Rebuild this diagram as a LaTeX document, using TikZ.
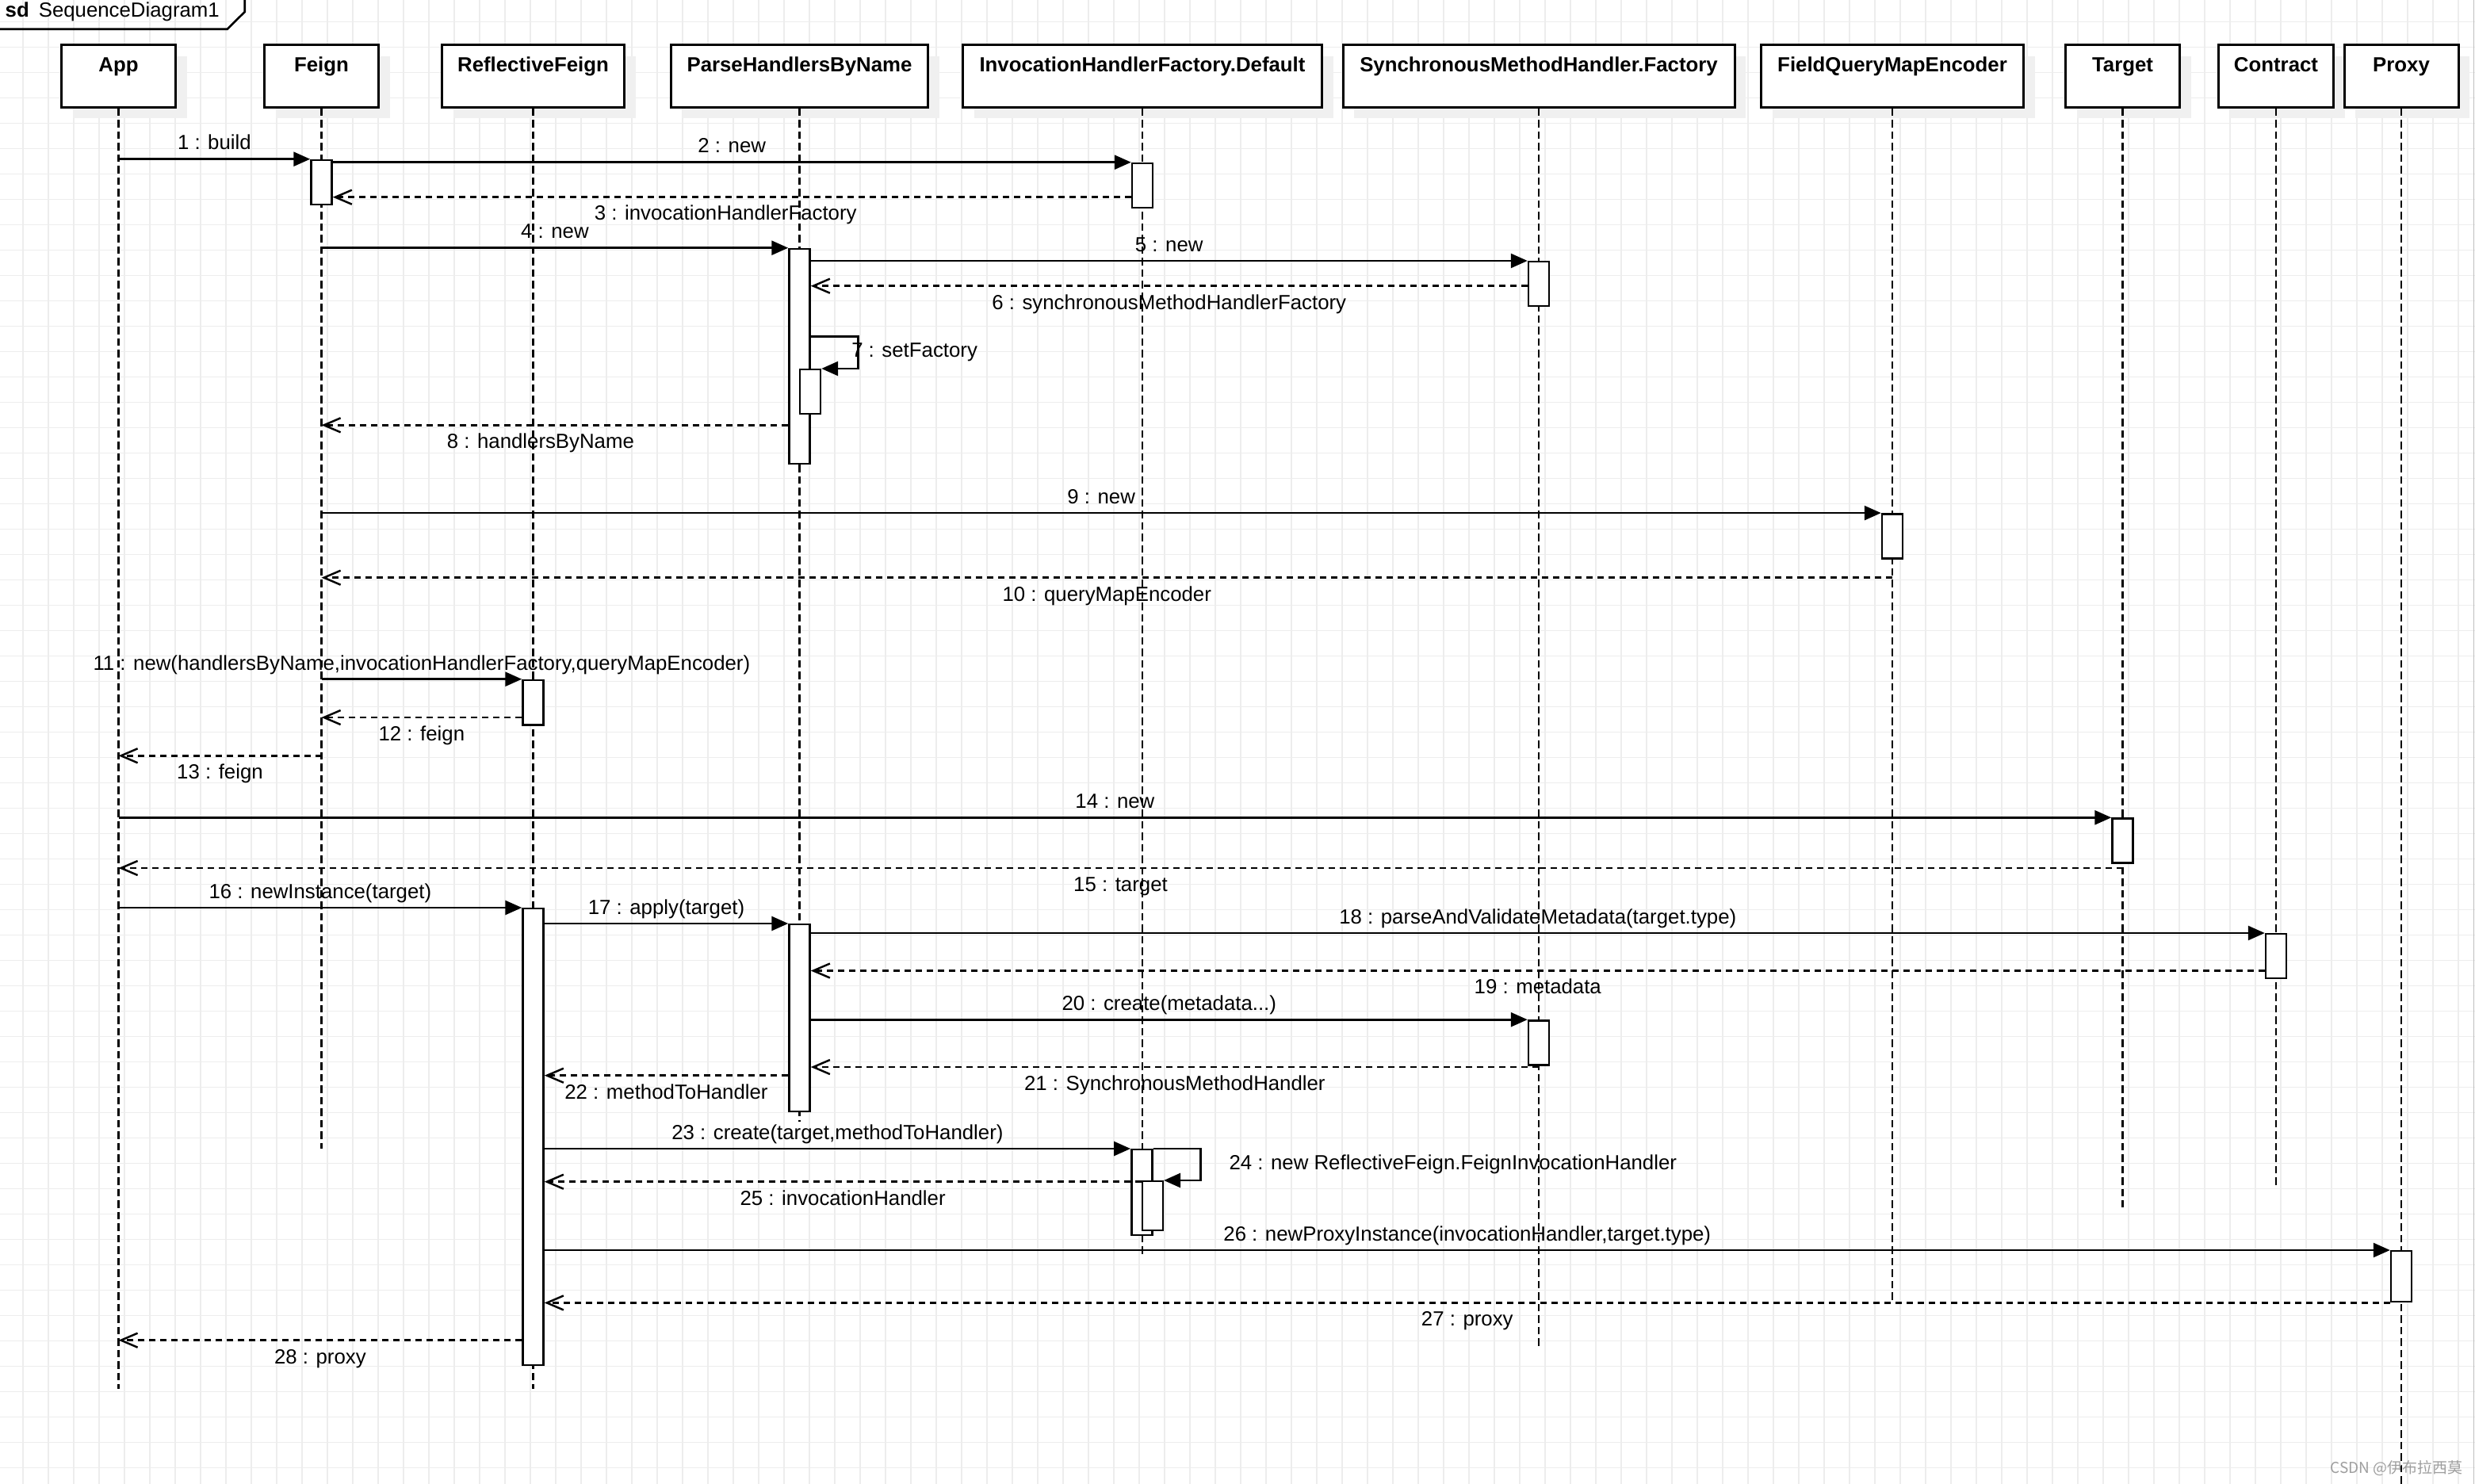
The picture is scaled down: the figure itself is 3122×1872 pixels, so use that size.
\documentclass[tikz,border=0pt]{standalone}
\usepackage{fontspec}
\setmainfont{Liberation Sans}
\newfontfamily\cjkfont{Noto Sans CJK SC}
\usepackage{tikz}
\usetikzlibrary{arrows.meta,calc,shadows}
\newcommand\msgfont{\fontsize{7.34pt}{8.8pt}\selectfont}
\tikzset{
  gridline/.style={black!7, line width=0.3pt},
  lifebox/.style={draw, line width=0.85pt, fill=white, minimum height=7.83mm,
    text height=3.38mm, text depth=4.45mm, inner ysep=0pt, font=\msgfont\bfseries,
    general shadow={fill=black!6, shadow xshift=1.43mm, shadow yshift=-1.4mm}},
  lifeline/.style={line width=0.65pt, dash pattern=on 0.95mm off 0.5mm},
  act/.style={draw, fill=white, line width=0.7pt, minimum width=2.6mm, inner sep=0pt, anchor=north},
  call/.style={line width=0.75pt, -{Triangle[length=2.1mm, width=1.8mm]}},
  reply/.style={line width=0.7pt, dash pattern=on 0.8mm off 0.6mm,
    -{Straight Barb[length=2.1mm, width=1.8mm]}},
  msgup/.style={midway, anchor=base, yshift=1.17mm, inner sep=0pt},
  msgdown/.style={midway, anchor=base, yshift=-2.93mm, inner sep=0pt}
}
\begin{document}
\begin{tikzpicture}[x=0.1mm, y=-0.1mm, font=\msgfont]
\useasboundingbox (0,0) rectangle (3122,1872);
%% background grid
\foreach \gx in {29,61,...,3101} \draw[gridline] (\gx,0) -- (\gx,1872);
\foreach \gy in {27.3,59.3,...,1851.3} \draw[gridline] (0,\gy) -- (3122,\gy);
\draw[black!25, line width=0.3pt] (3120.5,0) -- (3120.5,1872);
%% sd frame
\draw[line width=0.75pt] (0,36.7) -- (286.7,36.7) -- (308.7,15) -- (308.7,0);
\node[anchor=base west, inner sep=0pt] (frameTitle) at (6,22) {\textbf{sd}\hspace{1.2mm}SequenceDiagram1};
%% lifeline heads
\node[lifebox, minimum width=14.4mm]  (app)        at (149.5,95.9)  {App};
\node[lifebox, minimum width=14.4mm]  (feign)      at (405.5,95.9)  {Feign};
\node[lifebox, minimum width=23mm]    (reflective) at (672.5,95.9)  {ReflectiveFeign};
\node[lifebox, minimum width=32.45mm] (parse)      at (1008.5,95.9) {ParseHandlersByName};
\node[lifebox, minimum width=45.25mm] (factory)    at (1441,95.9)   {InvocationHandlerFactory.Default};
\node[lifebox, minimum width=49.4mm]  (synch)      at (1941,95.9)   {SynchronousMethodHandler.Factory};
\node[lifebox, minimum width=33.06mm] (encoder)    at (2387,95.9)   {FieldQueryMapEncoder};
\node[lifebox, minimum width=14.4mm]  (target)     at (2677.5,95.9) {Target};
\node[lifebox, minimum width=14.55mm] (contract)   at (2871,95.9)   {Contract};
\node[lifebox, minimum width=14.4mm]  (proxy)      at (3029,95.9)   {Proxy};
\foreach \n/\e in {app/1752, feign/1449, reflective/1752, parse/1415, factory/1582,
                   synch/1700, encoder/1641, target/1523, contract/1497, proxy/1872}
  \draw[lifeline] (\n.south) -- (\n.south |- 0,\e);
%% activations
\node[act, minimum height=5.63mm]  (fg1) at (405.5,200.7)  {};
\node[act, minimum height=5.63mm]  (ih1) at (1441,204.7)   {};
\node[act, minimum height=27.13mm] (ph1) at (1008.5,312.7) {};
\node[act, minimum height=5.6mm]   (sm1) at (1941,329)     {};
\node[act, minimum height=5.57mm]  (ph2) at (1022,465)     {};
\node[act, minimum height=5.6mm]   (fq1) at (2387,647.1)   {};
\node[act, minimum height=5.66mm]  (rf1) at (672.5,856.7)  {};
\node[act, minimum height=5.6mm]   (tg1) at (2677.5,1031.3){};
\node[act, minimum height=57.57mm] (rf2) at (672.5,1145)   {};
\node[act, minimum height=23.6mm]  (ph3) at (1008.5,1165)  {};
\node[act, minimum height=5.55mm]  (ct1) at (2871,1177)    {};
\node[act, minimum height=5.6mm]   (sm2) at (1941,1286.2)  {};
\node[act, minimum height=10.77mm] (ih2) at (1440.3,1449)  {};
\node[act, minimum height=6.2mm]   (ih3) at (1453.8,1489)  {};
\node[act, minimum height=6.4mm]   (px1) at (3029,1577)    {};
%% messages
\draw[call] (app |- fg1.north) -- (fg1.north west) node[msgup] {1 : build};
\draw[call] (fg1.east |- ih1.north) -- (ih1.north west) node[msgup] {2 : new};
\draw[reply] (ih1.west |- 0,248.7) -- (fg1.east |- 0,248.7)
  node[msgdown, xshift=-0.8mm] {3 : invocationHandlerFactory};
\draw[call] (feign |- ph1.north) -- (ph1.north west) node[msgup] {4 : new};
\draw[call] (ph1.east |- sm1.north) -- (sm1.north west) node[msgup] {5 : new};
\draw[reply] (sm1.west |- 0,360.7) -- (ph1.east |- 0,360.7) node[msgdown] {6 : synchronousMethodHandlerFactory};
\draw[call] (ph1.east |- 0,424.3) -| ($(ph2.north east)+(46,0)$)
  node[pos=0.75, anchor=west, inner sep=0pt, xshift=-0.93mm] {7 : setFactory} -- (ph2.north east);
\draw[reply] (ph1.west |- 0,536.3) -- (feign |- 0,536.3)
  node[msgdown, xshift=-1.8mm] {8 : handlersByName};
\draw[call] (feign |- fq1.north) -- (fq1.north west) node[msgup] {9 : new};
\draw[reply] (encoder |- 0,728.7) -- (feign |- 0,728.7) node[msgdown] {10 : queryMapEncoder};
\draw[call] (feign |- rf1.north) -- (rf1.north west)
  node[msgup] {11 : new(handlersByName,invocationHandlerFactory,queryMapEncoder)};
\draw[reply] (rf1.west |- 0,905) -- (feign |- 0,905) node[msgdown] {12 : feign};
\draw[reply] (feign |- 0,953.3) -- (app |- 0,953.3) node[msgdown] {13 : feign};
\draw[call] (app |- tg1.north) -- (tg1.north west) node[msgup] {14 : new};
\draw[reply] (target |- 0,1095) -- (app |- 0,1095) node[msgdown] {15 : target};
\draw[call] (app |- rf2.north) -- (rf2.north west) node[msgup] {16 : newInstance(target)};
\draw[call] (rf2.east |- ph3.north) -- (ph3.north west) node[msgup] {17 : apply(target)};
\draw[call] (ph3.east |- ct1.north) -- (ct1.north west) node[msgup] {18 : parseAndValidateMetadata(target.type)};
\draw[reply] (ct1.west |- 0,1224.5) -- (ph3.east |- 0,1224.5) node[msgdown] {19 : metadata};
\draw[call] (ph3.east |- sm2.north) -- (sm2.north west) node[msgup] {20 : create(metadata...)};
\draw[reply] (synch |- 0,1346) -- (ph3.east |- 0,1346) node[msgdown] {21 : SynchronousMethodHandler};
\draw[reply] (ph3.west |- 0,1356.7) -- (rf2.east |- 0,1356.7) node[msgdown] {22 : methodToHandler};
\draw[call] (rf2.east |- ih2.north) -- (ih2.north west) node[msgup] {23 : create(target,methodToHandler)};
\draw[call] (ih2.north east) -| ($(ih3.north east)+(46.5,0)$)
  node[pos=0.75, anchor=west, inner sep=0pt, xshift=3.47mm] {24 : new ReflectiveFeign.FeignInvocationHandler}
  -- (ih3.north east);
\draw[reply] (ih3.west |- 0,1490.7) -- (rf2.east |- 0,1490.7) node[msgdown] {25 : invocationHandler};
\draw[call] (rf2.east |- px1.north) -- (px1.north west)
  node[msgup] {26 : newProxyInstance(invocationHandler,target.type)};
\draw[reply] (px1.south west) -- (rf2.east |- px1.south) node[msgdown] {27 : proxy};
\draw[reply] (rf2.west |- 0,1690.7) -- (app |- 0,1690.7) node[msgdown] {28 : proxy};
%% watermark
\node[anchor=base east, inner sep=0pt, text=black!38] (mark) at (3107,1858.5)
  {\cjkfont\fontsize{5.4pt}{6pt}\selectfont CSDN @伊布拉西莫};
\end{tikzpicture}
\end{document}
